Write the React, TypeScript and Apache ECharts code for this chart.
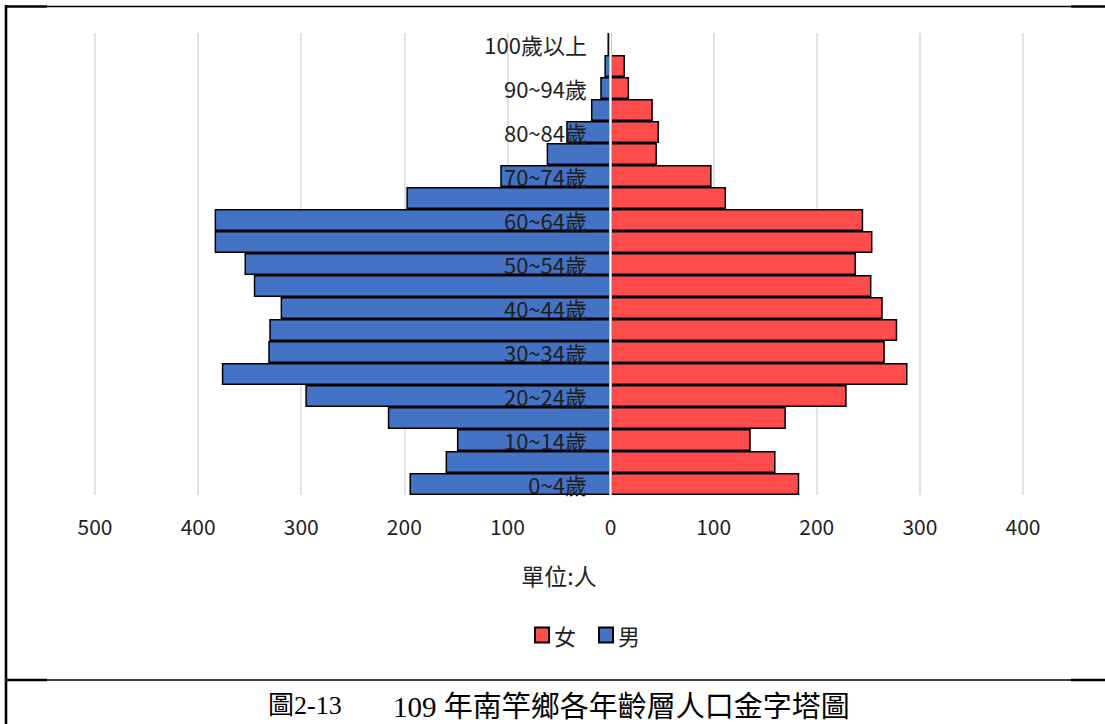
import React, { useEffect, useRef } from "react";
import * as echarts from "echarts";

const ageGroups = [
  "0~4歲", "5~9歲", "10~14歲", "15~19歲", "20~24歲", "25~29歲", "30~34歲",
  "35~39歲", "40~44歲", "45~49歲", "50~54歲", "55~59歲", "60~64歲", "65~69歲",
  "70~74歲", "75~79歲", "80~84歲", "85~89歲", "90~94歲", "95~99歲", "100歲以上",
];
const maleCounts = [195, 160, 149, 216, 296, 377, 332, 331, 320, 346, 355, 384, 384, 198, 107, 62, 43, 19, 10, 6, 3];
const femaleCounts = [183, 160, 136, 170, 229, 288, 266, 278, 264, 253, 238, 254, 245, 112, 98, 45, 47, 41, 18, 14, 1];

const xMin = -500;
const xMax = 400;
const xInterval = 100;

const legendNames = ["女", "男"];
const axisUnit = "單位:人";
const captionNo = "圖2-13";
const captionTitle = "109 年南竿鄉各年齡層人口金字塔圖";

const SANS = "'Noto Sans CJK TC', 'Noto Sans', sans-serif";
const SERIF = "'Liberation Serif', 'DejaVu Serif', 'Noto Sans CJK TC', serif";

export default function App() {
  const ref = useRef<HTMLDivElement>(null);

  useEffect(() => {
    if (!ref.current) return;
    const chart = echarts.init(ref.current, undefined, { renderer: "svg" });
    const thin = { stroke: "#000", lineWidth: 1.3 };
    const thick = { stroke: "#000", lineWidth: 2.6 };
    chart.setOption({
      animation: false,
      backgroundColor: "#fff",
      grid: { left: 95, right: 82, top: 33, bottom: 229, containLabel: false, outerBoundsMode: "none" },
      legend: {
        data: legendNames,
        left: 529,
        top: 619,
        itemWidth: 14,
        itemHeight: 15,
        itemGap: 22,
        icon: "rect",
        textStyle: { fontFamily: SANS, fontSize: 22, color: "#1f1f1f" },
      },
      xAxis: {
        type: "value",
        min: xMin,
        max: xMax,
        interval: xInterval,
        axisLine: { show: false },
        axisTick: { show: false },
        axisLabel: {
          margin: 20,
          fontFamily: SANS,
          fontSize: 21,
          color: "#1f1f1f",
          formatter: (v: number) => String(Math.abs(v)),
        },
        splitLine: { show: true, lineStyle: { color: "#d9d9d9", width: 1.5 } },
        name: axisUnit,
        nameLocation: "middle",
        nameGap: 68,
        nameTextStyle: { fontFamily: SANS, fontSize: 23, color: "#1f1f1f" },
      },
      yAxis: {
        type: "category",
        data: ageGroups,
        z: 10,
        axisLine: { show: true, onZero: true, lineStyle: { color: "#fff", width: 2.5 } },
        axisTick: { show: false },
        splitLine: { show: false },
        axisLabel: {
          interval: 1,
          margin: -492,
          fontFamily: SANS,
          fontSize: 22,
          color: "#1f1f1f",
          padding: [8, 0, 0, 0],
        },
      },
      series: [
        {
          name: "女",
          type: "bar",
          stack: "pop",
          barCategoryGap: "0%",
          data: femaleCounts,
          itemStyle: { color: "#FF4D4D", borderColor: "#000", borderWidth: 1.5 },
        },
        {
          name: "男",
          type: "bar",
          stack: "pop",
          barCategoryGap: "0%",
          data: maleCounts.map((v) => -v),
          itemStyle: { color: "#4472C4", borderColor: "#000", borderWidth: 1.5 },
        },
      ],
      graphic: [
        { type: "line", shape: { x1: 47, y1: 6.5, x2: 1071, y2: 6.5 }, style: thin, silent: true },
        { type: "line", shape: { x1: 5, y1: 6.5, x2: 47, y2: 6.5 }, style: thick, silent: true },
        { type: "line", shape: { x1: 1071, y1: 6.5, x2: 1105, y2: 6.5 }, style: thick, silent: true },
        { type: "line", shape: { x1: 6, y1: 5.2, x2: 6, y2: 724 }, style: thick, silent: true },
        { type: "line", shape: { x1: 47, y1: 680, x2: 1071, y2: 680 }, style: thin, silent: true },
        { type: "line", shape: { x1: 6, y1: 680, x2: 47, y2: 680 }, style: thick, silent: true },
        { type: "line", shape: { x1: 1071, y1: 680, x2: 1105, y2: 680 }, style: thick, silent: true },
        {
          type: "text",
          left: 268,
          top: 692,
          style: { text: captionNo, fontFamily: SERIF, fontSize: 26, fill: "#000" },
        },
        {
          type: "text",
          left: 393,
          top: 692,
          style: { text: captionTitle, fontFamily: SERIF, fontSize: 29, fill: "#000" },
        },
      ],
    });
    return () => chart.dispose();
  }, []);

  return (
    <div
      ref={ref}
      style={{ position: "fixed", left: 0, top: 0, width: 1105, height: 724, background: "#fff" }}
    />
  );
}
